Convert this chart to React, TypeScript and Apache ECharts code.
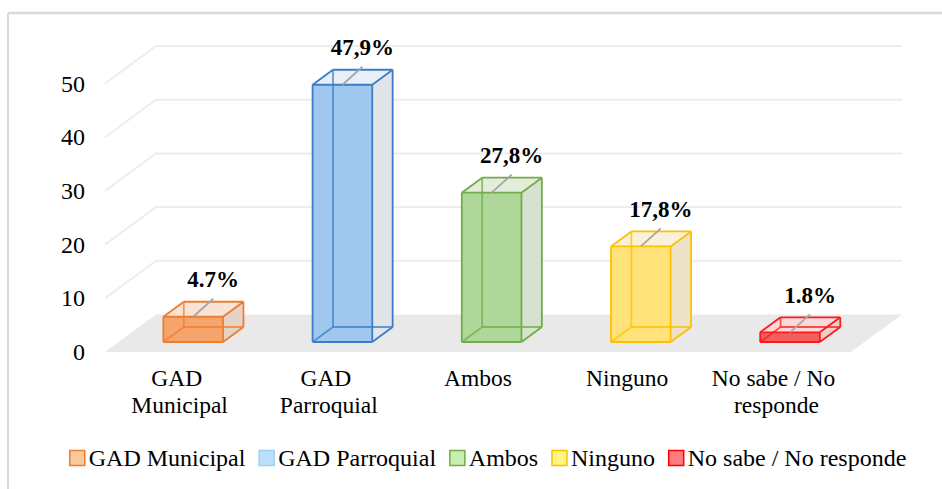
import React, { useEffect, useRef } from "react";
import * as echarts from "echarts";

const categories = ["GAD Municipal", "GAD Parroquial", "Ambos", "Ninguno", "No sabe / No responde"];
const values = [4.7, 47.9, 27.8, 17.8, 1.8];
const valueLabels = ["4.7%", "47,9%", "27,8%", "17,8%", "1.8%"];
const yTicks = [0, 10, 20, 30, 40, 50];

const edgeColors = ["#ED7D31", "#3A7DC9", "#70AD47", "#FFC000", "#FF1A1A"];
const frontColors = ["#F5A46C", "#A0C8EE", "#B0D79A", "#FFE37A", "#F35E5E"];
const topColors = ["#F7E4D6", "#E9EFF5", "#E3EEDA", "#F9F1D9", "#FBD9D9"];
const sideColors = ["#E6D3C6", "#E0E5EA", "#D7E1CF", "#ECE3C6", "#EDCFCF"];
const legendFills = ["#F9C89C", "#BBE0FA", "#C8EEB2", "#FFF584", "#FF7C7C"];
const legendBorders = ["#ED7D31", "#9DCFF5", "#70AD47", "#FFC000", "#FF0000"];

const FONT = "Liberation Serif, Times New Roman, serif";
const DX = 51;
const DY = -37.5;
const T0 = 0.267;
const T1 = 0.667;

export default function App() {
  const ref = useRef<HTMLDivElement>(null);
  useEffect(() => {
    if (!ref.current) return;
    const chart = echarts.init(ref.current, null, { renderer: "svg" });

    const wallSeries: any = {
      type: "custom",
      name: "walls",
      silent: true,
      clip: false,
      z: 1,
      data: yTicks.map((v) => [0, v]),
      renderItem: (params: any, api: any) => {
        const cs = params.coordSys;
        const left = cs.x;
        const right = cs.x + cs.width;
        const y = api.coord([0, api.value(1)])[1];
        if (api.value(1) === 0) {
          return {
            type: "polygon",
            shape: {
              points: [
                [left, y],
                [right, y],
                [right + DX, y + DY],
                [left + DX, y + DY],
              ],
            },
            style: { fill: "#E9E9E9", stroke: "none" },
          };
        }
        return {
          type: "polyline",
          shape: {
            points: [
              [left, y],
              [left + DX, y + DY],
              [right + DX, y + DY],
            ],
          },
          style: { fill: "none", stroke: "#EDEDED", lineWidth: 2 },
        };
      },
    };

    const barSeries = categories.map((name, i) => ({
      type: "custom",
      name,
      clip: false,
      silent: true,
      z: 3,
      data: [[i, values[i]]],
      itemStyle: { color: legendFills[i] },
      renderItem: (params: any, api: any) => {
        const idx = api.value(0);
        const v = api.value(1);
        const base = api.coord([idx, 0]);
        const top = api.coord([idx, v]);
        const hw = api.size([1, 0])[0] * 0.2;
        const cx = base[0] + DX * T0;
        const x0 = cx - hw;
        const x1 = cx + hw;
        const yb = base[1] + DY * T0;
        const yt = top[1] + DY * T0;
        const bx = DX * (T1 - T0);
        const by = DY * (T1 - T0);
        const edge = edgeColors[i];
        const line = (a: number[], b: number[], op = 1) => ({
          type: "line",
          shape: { x1: a[0], y1: a[1], x2: b[0], y2: b[1] },
          style: { stroke: edge, lineWidth: 1.8, opacity: op },
        });
        const F_BL = [x0, yb], F_BR = [x1, yb], F_TL = [x0, yt], F_TR = [x1, yt];
        const B_BL = [x0 + bx, yb + by], B_BR = [x1 + bx, yb + by];
        const B_TL = [x0 + bx, yt + by], B_TR = [x1 + bx, yt + by];
        const lx = cx + 20;
        const ly = yt - 18;
        return {
          type: "group",
          children: [
            {
              type: "polygon",
              shape: { points: [F_BR, B_BR, B_TR, F_TR] },
              style: { fill: sideColors[i] },
            },
            {
              type: "polygon",
              shape: { points: [F_TL, F_TR, B_TR, B_TL] },
              style: { fill: topColors[i] },
            },
            {
              type: "rect",
              shape: { x: x0, y: yt, width: x1 - x0, height: yb - yt },
              style: { fill: frontColors[i] },
            },
            line(B_BL, B_TL, 0.75),
            line(B_BL, B_BR, 0.75),
            line(F_BL, B_BL, 0.75),
            line(F_BL, F_BR),
            line(F_BR, F_TR),
            line(F_TR, F_TL),
            line(F_TL, F_BL),
            line(F_BR, B_BR),
            line(B_BR, B_TR),
            line(F_TR, B_TR),
            line(F_TL, B_TL),
            line(B_TL, B_TR),
            {
              type: "line",
              shape: { x1: cx, y1: yt, x2: lx, y2: ly },
              style: { stroke: "#A6A6A6", lineWidth: 1.8 },
            },
            {
              type: "text",
              style: {
                x: lx,
                y: ly - 19,
                text: valueLabels[i],
                align: "center",
                verticalAlign: "middle",
                fill: "#000",
                fontFamily: FONT,
                fontSize: 23,
                fontWeight: "bold",
              },
            },
          ],
        };
      },
    }));

    chart.setOption({
      animation: false,
      backgroundColor: "#fff",
      textStyle: { fontFamily: FONT },
      grid: { left: 105, right: 91, top: 83.5, bottom: 137, containLabel: false },
      xAxis: {
        type: "category",
        data: categories,
        axisLine: { show: false },
        axisTick: { show: false },
        axisLabel: {
          color: "#000",
          fontSize: 23.5,
          fontFamily: FONT,
          lineHeight: 27,
          margin: 12,
          width: 130,
          overflow: "break",
          interval: 0,
        },
      },
      yAxis: {
        type: "value",
        min: 0,
        max: 50,
        interval: 10,
        axisLine: { show: false },
        axisTick: { show: false },
        splitLine: { show: false },
        axisLabel: { color: "#000", fontSize: 24, fontFamily: FONT, margin: 20 },
      },
      legend: {
        left: 69,
        top: 446,
        padding: 0,
        icon: "rect",
        itemWidth: 15,
        itemHeight: 15,
        itemGap: 13,
        textStyle: { color: "#000", fontSize: 24, fontFamily: FONT, padding: [0, 0, 0, -1] },
        selectedMode: false,
        data: categories.map((name, i) => ({
          name,
          itemStyle: { color: legendFills[i], borderColor: legendBorders[i], borderWidth: 1.5 },
        })),
      },
      graphic: [
        {
          type: "line",
          shape: { x1: 8, y1: 13, x2: 942, y2: 13 },
          style: { stroke: "#D9D9D9", lineWidth: 2.5 },
        },
        {
          type: "line",
          shape: { x1: 8, y1: 13, x2: 8, y2: 489 },
          style: { stroke: "#D9D9D9", lineWidth: 2 },
        },
      ],
      series: [wallSeries, ...barSeries],
    });
    return () => chart.dispose();
  }, []);
  return (
    <div
      ref={ref}
      style={{ position: "fixed", left: 0, top: 0, width: 942, height: 489, background: "#fff" }}
    />
  );
}
